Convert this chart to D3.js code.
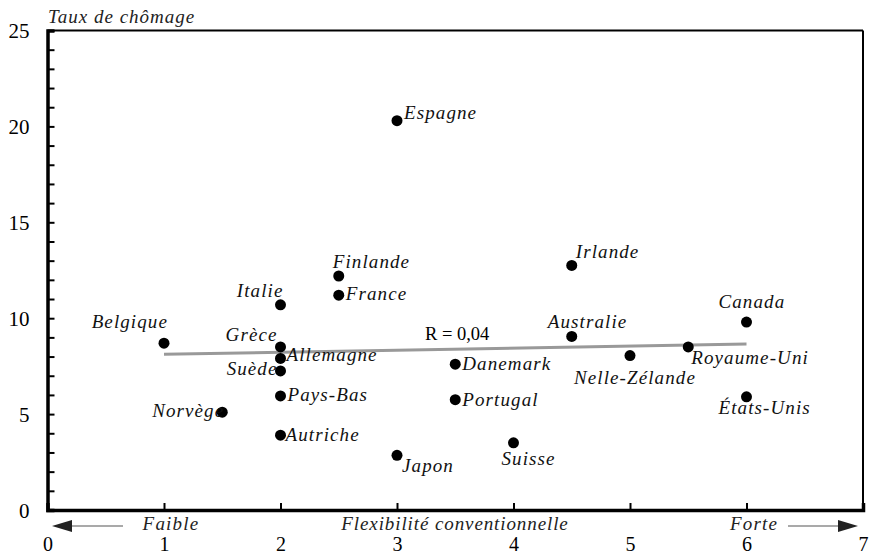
<!DOCTYPE html>
<html><head><meta charset="utf-8">
<script src="https://cdn.jsdelivr.net/npm/d3@7"></script>
<style>body{margin:0;background:#fff}svg{display:block}text{font-family:"Liberation Serif","Times New Roman",serif}</style>
</head><body><svg id="c" width="870" height="555"></svg>
<script>
const countries = ["Belgique","Norvège","Italie","Grèce","Allemagne","Suède","Pays-Bas","Autriche","Finlande","France","Espagne","Japon","Danemark","Portugal","Suisse","Irlande","Australie","Nelle-Zélande","Royaume-Uni","Canada","États-Unis"];
const flexibility = [1,1.5,2,2,2,2,2,2,2.5,2.5,3,3,3.5,3.5,4,4.5,4.5,5,5.5,6,6];
const unemployment = [8.7,5.1,10.7,8.5,7.9,7.25,5.95,3.9,12.2,11.2,20.3,2.85,7.6,5.75,3.5,12.75,9.05,8.05,8.5,9.8,5.9];
const xTicks = [0,1,2,3,4,5,6,7];
const yTicks = [0,5,10,15,20,25];
const trendX = [1,6];
const trendY = [8.12,8.65];
const rLabel = "R = 0,04";
const yTitle = "Taux de chômage";
const xTitle = "Flexibilité conventionnelle";
const lowLabel = "Faible", highLabel = "Forte";

// label placement (dx, dy, anchor) per country
const placement = {
 "Belgique":[4,-15,"end"],"Norvège":[2,5,"end"],"Italie":[3,-8,"end"],"Grèce":[-3,-6,"end"],
 "Allemagne":[6,3,"start"],"Suède":[-3,4,"end"],"Pays-Bas":[7,5,"start"],"Autriche":[5,6,"start"],
 "Finlande":[-6,-8,"start"],"France":[7,5,"start"],"Espagne":[7,-2,"start"],"Japon":[5,17,"start"],
 "Danemark":[7,6,"start"],"Portugal":[7,6,"start"],"Suisse":[-12,22,"start"],"Irlande":[4,-7,"start"],
 "Australie":[-24,-8,"start"],"Nelle-Zélande":[-56,28,"start"],"Royaume-Uni":[3,17,"start"],
 "Canada":[-28,-14,"start"],"États-Unis":[-28,17,"start"]
};

const svg = d3.select("#c");
const x = d3.scaleLinear().domain([0,7]).range([47.5,863]);
const y = d3.scaleLinear().domain([0,25]).range([510,30.5]);

// frame top & right
svg.append("line").attr("x1",x(0)).attr("x2",x(7)).attr("y1",y(25)).attr("y2",y(25)).attr("stroke","#000").attr("stroke-width",2);
svg.append("line").attr("x1",x(7)).attr("x2",x(7)).attr("y1",y(25)).attr("y2",y(0)).attr("stroke","#000").attr("stroke-width",2);

// y axis
const yAxis = d3.axisRight(y).tickValues(d3.range(0,26)).tickSize(7).tickFormat("");
const gy = svg.append("g").attr("transform",`translate(${x(0)},0)`).call(yAxis);
gy.select(".domain").attr("stroke","#000").attr("stroke-width",3.5);
gy.selectAll(".tick line").attr("stroke","#000").attr("stroke-width",2);
const gyl = svg.append("g").attr("transform",`translate(${x(0)-18},0)`).call(d3.axisLeft(y).tickValues(yTicks).tickSize(0).tickPadding(0).tickFormat(d3.format("d")));
gyl.select(".domain").remove();
gyl.selectAll("text").attr("font-size",21).attr("fill","#000").attr("dy","0.35em");

// x axis
const gx = svg.append("g").attr("transform",`translate(0,${y(0)})`).call(d3.axisTop(x).tickValues([1,2,3,4,5,6]).tickSize(7).tickFormat(""));
gx.select(".domain").attr("stroke","#000").attr("stroke-width",3.5);
gx.selectAll(".tick line").attr("stroke","#000").attr("stroke-width",2);
const gxl = svg.append("g").attr("transform",`translate(0,${y(0)+41})`).call(d3.axisBottom(x).tickValues(xTicks).tickSize(0).tickPadding(0).tickFormat(d3.format("d")));
gxl.select(".domain").remove();
gxl.selectAll("text").attr("font-size",20).attr("fill","#000").attr("dy","0");

// trend line
svg.append("line").attr("x1",x(trendX[0])).attr("y1",y(trendY[0])).attr("x2",x(trendX[1])).attr("y2",y(trendY[1]))
 .attr("stroke","#999").attr("stroke-width",3);
svg.append("text").attr("x",x(3.24)).attr("y",y(8.87)).attr("font-size",18.5).text(rLabel);

// points
const data = countries.map((c,i)=>({c,fx:flexibility[i],u:unemployment[i]}));
svg.append("g").selectAll("circle").data(data).join("circle")
 .attr("cx",d=>x(d.fx)).attr("cy",d=>y(d.u)).attr("r",5.5).attr("fill","#000");
svg.append("g").selectAll("text").data(data).join("text")
 .attr("x",d=>x(d.fx)+placement[d.c][0]).attr("y",d=>y(d.u)+placement[d.c][1])
 .attr("text-anchor",d=>placement[d.c][2]).attr("font-style","italic").attr("font-size",19)
 .attr("letter-spacing",1.1).attr("fill","#111").text(d=>d.c);

// titles
svg.append("text").attr("x",48).attr("y",23).attr("font-style","italic").attr("font-size",19).attr("letter-spacing",1).attr("fill","#222").text(yTitle);
svg.append("text").attr("x",455).attr("y",530).attr("text-anchor","middle").attr("font-style","italic").attr("font-size",19).attr("fill","#222").attr("letter-spacing",0.9).text(xTitle);
svg.append("text").attr("x",171).attr("y",530).attr("text-anchor","middle").attr("font-style","italic").attr("font-size",19).attr("letter-spacing",1.2).attr("fill","#222").text(lowLabel);
svg.append("text").attr("x",754).attr("y",530).attr("text-anchor","middle").attr("font-style","italic").attr("font-size",19).attr("letter-spacing",1.2).attr("fill","#222").text(highLabel);

// arrows
const ay = 526;
svg.append("line").attr("x1",123).attr("x2",70).attr("y1",ay).attr("y2",ay).attr("stroke","#555").attr("stroke-width",1.2);
svg.append("path").attr("d",`M52,${ay} L72,${ay-6} L72,${ay+6} Z`).attr("fill","#222");
svg.append("line").attr("x1",788).attr("x2",840).attr("y1",ay).attr("y2",ay).attr("stroke","#555").attr("stroke-width",1.2);
svg.append("path").attr("d",`M858,${ay} L838,${ay-6} L838,${ay+6} Z`).attr("fill","#222");
</script></body></html>
